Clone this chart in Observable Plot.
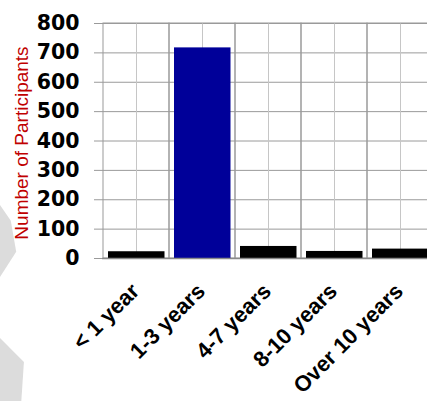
<!DOCTYPE html>
<html>
<head>
<meta charset="utf-8">
<script src="https://cdn.jsdelivr.net/npm/d3@7"></script>
<script src="https://cdn.jsdelivr.net/npm/@observablehq/plot@0.6"></script>
<style>
  html, body { margin: 0; padding: 0; background: #fff; }
  #wrap { position: relative; width: 427px; height: 401px; overflow: hidden; }
  .deco { position: absolute; background: #dcdcdc; }
  #d1 { left: 0; top: 205px; width: 18px; height: 72px; clip-path: polygon(0 0, 60% 22%, 90% 65%, 0 100%); }
  #d2 { left: 0; top: 338px; width: 26px; height: 63px; clip-path: polygon(0 0, 92% 38%, 82% 100%, 0 100%); }
  #chart { position: absolute; left: 0; top: 0; }
</style>
</head>
<body>
<div id="wrap">
  <div class="deco" id="d1"></div>
  <div class="deco" id="d2"></div>
  <div id="chart"></div>
</div>
<script>
const categories = ["< 1 year", "1-3 years", "4-7 years", "8-10 years", "Over 10 years"];
const counts = [23, 717, 41, 24, 32];
const barColors = ["#000000", "#000099", "#000000", "#000000", "#000000"];
const yTicks = [0, 100, 200, 300, 400, 500, 600, 700, 800];
const yLabel = "Number of Participants";

const rows = categories.map((c, i) => ({category: c, count: counts[i], color: barColors[i]}));

const chart = Plot.plot({
  width: 427,
  height: 401,
  marginLeft: 102,
  marginRight: -7,
  marginTop: 23,
  marginBottom: 143,
  style: {background: "transparent", overflow: "hidden"},
  x: {domain: categories, padding: 0, label: null},
  y: {domain: [0, 800], ticks: yTicks, label: null},
  color: {type: "identity"},
  marks: [
    Plot.ruleY(yTicks, {stroke: "#9a9a9a"}),
    Plot.ruleX(categories, {stroke: "#c6c6c6"}),
    Plot.barY(categories, {x: d => d, y1: 0, y2: 800, fill: "none", stroke: "#9a9a9a"}),
    Plot.barY(rows, {x: "category", y: "count", fill: "color", insetLeft: 5, insetRight: 4.5}),
    Plot.ruleY([0], {stroke: "#8a8a8a", strokeWidth: 1.5}),
    Plot.axisY({ticks: yTicks, tickSize: 8, tickPadding: 15, stroke: "#9a9a9a", fill: "#000",
      fontSize: 20.5, fontWeight: "bold", fontFamily: "DejaVu Sans", label: null}),
    Plot.axisX({tickSize: 0, tickPadding: 29, tickRotate: -45, fill: "#000", dx: -1,
      fontSize: 22, fontWeight: "bold", fontFamily: "Liberation Sans", label: null}),
    Plot.text([yLabel], {text: d => d, frameAnchor: "left", dx: -81, dy: 2, rotate: -90,
      fill: "#c00000", fontSize: 19, fontFamily: "Liberation Sans", lineAnchor: "middle", textAnchor: "middle"})
  ]
});
document.getElementById("chart").appendChild(chart);
</script>
</body>
</html>
